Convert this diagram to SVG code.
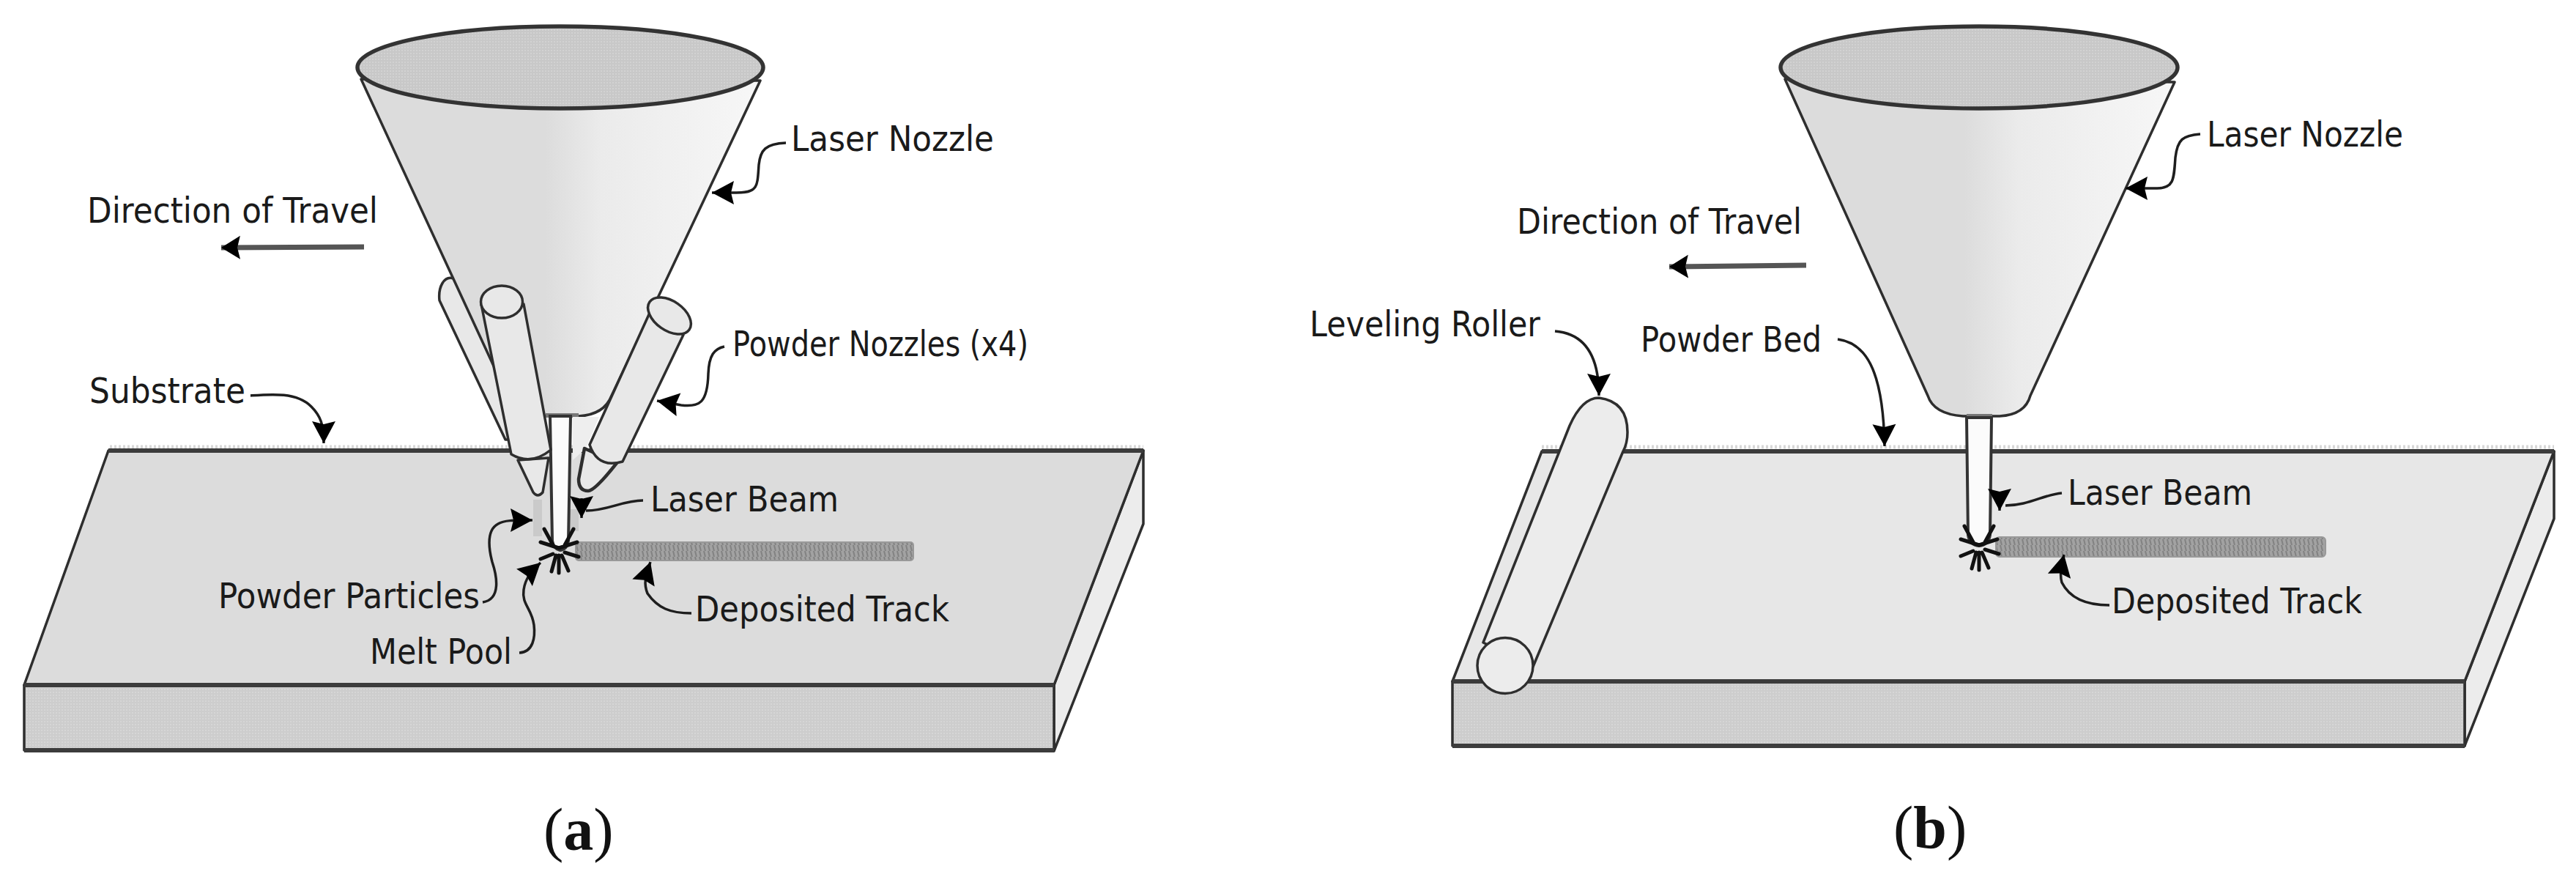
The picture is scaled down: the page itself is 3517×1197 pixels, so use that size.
<svg xmlns="http://www.w3.org/2000/svg" xmlns:xlink="http://www.w3.org/1999/xlink" width="3517" height="1197" viewBox="0 0 3517 1197">
<style>
.lbl{font-family:"DejaVu Sans","Liberation Sans",sans-serif;font-size:48px;fill:#1a1a1a}
.cap{font-family:"Liberation Serif",serif;font-size:82px;fill:#111}
.capb{font-weight:bold}
.edge{stroke:#2e2e2e;stroke-width:3.5;stroke-linejoin:round;stroke-linecap:round}
.thick{fill:none;stroke:#3c3c3c;stroke-width:6}
.halo{fill:none;stroke:#d8d8d8;stroke-width:5;stroke-dasharray:3 3}
.topA{fill:#dcdcdc}.topB{fill:#e7e7e7}.front{fill:url(#dither)}.side{fill:#ececec}
.noz{fill:#e8e8e8}
.lead{fill:none;stroke:#1e1e1e;stroke-width:3.5}
.arrow{marker-end:url(#head)}
.dir{fill:none;stroke:#555;stroke-width:7;marker-end:url(#dirhead)}
.track{fill:url(#hatch);stroke:#999;stroke-width:2}
.beam{fill:#fbfbfb;stroke:#333;stroke-width:4}
.ray{fill:none;stroke:#111;stroke-width:5;stroke-linecap:round}
.rim{fill:url(#dither2);stroke:#333;stroke-width:5.5}
.powder{fill:#c4c4c4;opacity:.75}
</style>
<defs>
<pattern id="dither" width="4" height="4" patternUnits="userSpaceOnUse"><rect width="4" height="4" fill="#cdcdcd"/><rect width="2" height="2" fill="#d6d6d6"/></pattern>
<pattern id="dither2" width="4" height="4" patternUnits="userSpaceOnUse"><rect width="4" height="4" fill="#c8c8c8"/><rect width="2" height="2" fill="#d2d2d2"/></pattern>
<pattern id="hatch" width="6" height="8" patternUnits="userSpaceOnUse"><rect width="6" height="8" fill="#a2a2a2"/><path d="M1 0L3 8" stroke="#828282" stroke-width="2"/></pattern>
<linearGradient id="cone" x1="0" y1="0" x2="1" y2="0">
<stop offset="0" stop-color="#dcdcdc"/><stop offset=".46" stop-color="#dcdcdc"/><stop offset=".6" stop-color="#ebebeb"/><stop offset="1" stop-color="#f7f7f7"/>
</linearGradient>
<marker id="head" markerUnits="userSpaceOnUse" markerWidth="40" markerHeight="40" refX="32" refY="17" orient="auto">
<path d="M32 17 L2 1 L6 17 L2 33Z" fill="#000"/>
</marker>
<marker id="dirhead" markerUnits="userSpaceOnUse" markerWidth="40" markerHeight="40" refX="26" refY="17" orient="auto">
<path d="M26 17 L0 1 L4 17 L0 33Z" fill="#000"/>
</marker>
<g id="star">
<path class="ray" d="M0 -4L-25 -12M0 -4L25 -12M-8 -8L-20 -30M8 -8L20 -30M-8 4L-25 11M8 2L27 8M-4 6L-10 28M0 6L0 30M4 6L13 27"/>
</g>
</defs>
<rect width="3517" height="1197" fill="#fff"/>

<g id="panel-a">
<g id="substrate-a">
<path class="halo" d="M150 610L1561 610"/>
<path class="side edge" d="M1561 615L1561 715L1439 1025L1439 935Z"/>
<path class="topA edge" d="M148 615L1561 615L1439 935L33 935Z"/>
<rect class="front edge" x="33" y="935" width="1406" height="89"/>
<path class="thick" d="M148 615L1561 615M33 935L1439 935M33 1024L1439 1024"/>
</g>
<g id="track-a"><rect class="track" x="786" y="740" width="461" height="25" rx="4"/></g>
<g id="rear-left-nozzle"><path class="noz edge" d="M619 380C606 376 598 392 600 410L690 600L730 600Z"/></g>
<g id="laser-nozzle-a">
<path d="M493 108L695 545Q702 566 745 568L790 568Q825 566 835 540L1038 110Z" fill="url(#cone)" class="edge"/>
<ellipse class="rim" cx="765" cy="92" rx="277" ry="56"/>
<path d="M745 567L790 567" stroke="#777" stroke-width="6"/>
</g>
<g id="rear-right-nozzle">
<path d="M782 569L818 569L800 612L782 628Z" fill="#eee"/>
<path class="noz edge" d="M798 612L790 654Q790 670 803 670Q812 670 842 632Z" style="stroke-width:4.5"/>
</g>
<g id="powder-a">
<rect class="powder" x="728" y="682" width="12" height="50"/>
<rect class="powder" x="778" y="695" width="12" height="30"/>
</g>
<g id="beam-a"><path class="beam" d="M751 568L779 568L776 738Q774 750 765 751Q756 750 754 738Z"/></g>
<g id="front-left-nozzle">
<path class="noz edge" d="M707 628L728 672Q734 680 741 672L749 625Z"/>
<path class="noz edge" d="M657 415L698 620Q725 636 752 614L715 415Z"/>
<ellipse class="noz edge" cx="685" cy="412" rx="28.500" ry="22"/>
</g>
<g id="front-right-nozzle">
<path class="noz edge" d="M887 427L805 607Q816 640 850 630L933 457Z"/>
<ellipse class="noz edge" cx="914" cy="431" rx="33" ry="20" transform="rotate(35 914 431)"/>
</g>
<use xlink:href="#star" href="#star" x="763" y="752"/>
</g>

<g id="panel-b">
<g id="bed-b">
<path class="halo" d="M2105 610L3487 610"/>
<path class="side edge" d="M3487 616L3487 708L3365 1018L3365 930Z"/>
<path class="topB edge" d="M2105 616L3487 616L3365 930L1983 930Z"/>
<rect class="front edge" x="1983" y="930" width="1382" height="88"/>
<path class="thick" d="M2105 616L3487 616M1983 930L3365 930M1983 1018L3365 1018"/>
</g>
<g id="track-b"><rect class="track" x="2725" y="733" width="450" height="27" rx="5"/></g>
<g id="laser-nozzle-b">
<path d="M2437 108L2632 540Q2640 565 2680 568L2730 568Q2765 566 2772 540L2969 112Z" fill="url(#cone)" class="edge"/>
<ellipse class="rim" cx="2702" cy="92" rx="271" ry="56"/>
<path d="M2685 568L2720 568" stroke="#777" stroke-width="6"/>
</g>
<g id="beam-b"><path class="beam" d="M2685 570L2719 570L2717 730Q2715 744 2702 745Q2689 744 2687 730Z"/></g>
<use xlink:href="#star" href="#star" x="2702" y="748"/>
<g id="roller">
<path class="side edge" d="M2143 581Q2160 543 2183 543Q2222 548 2222 590Q2222 605 2216 616L2093 910L2025 877Z"/>
<ellipse class="side edge" cx="2055" cy="908.500" rx="38" ry="38"/>
</g>
</g>

<g id="connectors">
<path class="lead arrow" d="M1073 195C1045 196 1038 205 1036 225C1034 255 1035 263 1005 263L972 263"/>
<path class="dir" d="M497 337L302 338"/>
<path class="lead arrow" d="M989 473C975 476 968 485 967 510C966 550 955 556 930 553L897 547"/>
<path class="lead arrow" d="M342 540C370 538 405 535 425 555C438 568 442 580 442 605"/>
<path class="lead" d="M878 683C850 683 830 697 800 697"/>
<path class="lead arrow" d="M794 680L794 707"/>
<path class="lead arrow" d="M659 822C685 818 678 785 672 767C665 740 667 722 680 715C688 710 700 710 727 710"/>
<path class="lead arrow" d="M709 891C728 890 731 870 729 853C726 830 712 825 715 805C717 790 725 780 738 768"/>
<path class="lead arrow" d="M944 837C915 837 898 830 884 810C878 795 882 785 888 767"/>
<path class="lead arrow" d="M3004 183C2980 185 2973 190 2970 215C2968 245 2968 257 2945 257L2902 257"/>
<path class="dir" d="M2466 362L2279 364"/>
<path class="lead arrow" d="M2123 452C2160 455 2183 480 2183 540"/>
<path class="lead arrow" d="M2509 463C2545 468 2571 500 2573 609"/>
<path class="lead" d="M2815 673C2790 675 2770 690 2738 690"/>
<path class="lead arrow" d="M2730 672L2730 697"/>
<path class="lead arrow" d="M2880 826C2845 826 2825 815 2815 795C2812 785 2814 775 2818 757"/>
</g>

<g id="labels">
<text class="lbl" x="1080" y="206" textLength="277" lengthAdjust="spacingAndGlyphs">Laser Nozzle</text>
<text class="lbl" x="119" y="304" textLength="397" lengthAdjust="spacingAndGlyphs">Direction of Travel</text>
<text class="lbl" x="1000" y="486" textLength="404" lengthAdjust="spacingAndGlyphs">Powder Nozzles (x4)</text>
<text class="lbl" x="122" y="550" textLength="213" lengthAdjust="spacingAndGlyphs">Substrate</text>
<text class="lbl" x="888" y="698" textLength="257" lengthAdjust="spacingAndGlyphs">Laser Beam</text>
<text class="lbl" x="298" y="830" textLength="357" lengthAdjust="spacingAndGlyphs">Powder Particles</text>
<text class="lbl" x="949" y="848" textLength="347" lengthAdjust="spacingAndGlyphs">Deposited Track</text>
<text class="lbl" x="505" y="906" textLength="194" lengthAdjust="spacingAndGlyphs">Melt Pool</text>
<text class="cap" x="742" y="1160">(<tspan class="capb">a</tspan>)</text>
<text class="lbl" x="3013" y="200" textLength="268" lengthAdjust="spacingAndGlyphs">Laser Nozzle</text>
<text class="lbl" x="2071" y="319" textLength="389" lengthAdjust="spacingAndGlyphs">Direction of Travel</text>
<text class="lbl" x="1788" y="459" textLength="315" lengthAdjust="spacingAndGlyphs">Leveling Roller</text>
<text class="lbl" x="2240" y="480" textLength="247" lengthAdjust="spacingAndGlyphs">Powder Bed</text>
<text class="lbl" x="2823" y="689" textLength="252" lengthAdjust="spacingAndGlyphs">Laser Beam</text>
<text class="lbl" x="2883" y="837" textLength="342" lengthAdjust="spacingAndGlyphs">Deposited Track</text>
<text class="cap" x="2585" y="1157">(<tspan class="capb">b</tspan>)</text>
</g>
</svg>
